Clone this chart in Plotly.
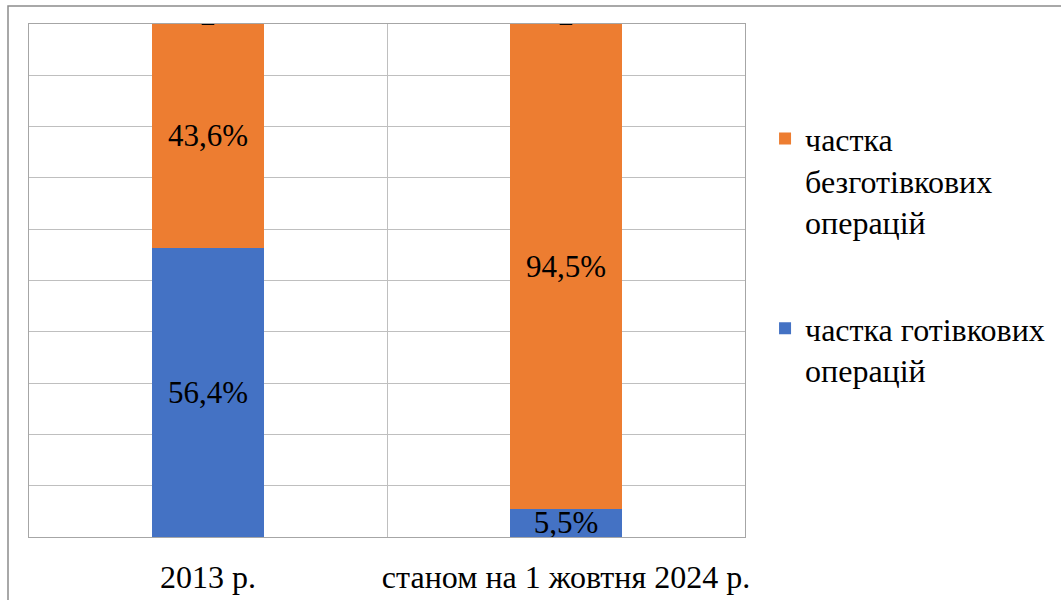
import plotly.graph_objects as go

# Share of payment operations, %
periods = ["2013 р.", "станом на 1 жовтня 2024 р."]
cash_share = [56.4, 5.5]
cashless_share = [43.6, 94.5]

series_names = ["частка готівкових<br>операцій", "частка<br>безготівкових<br>операцій"]
colors = ["#4472C4", "#ED7D31"]

font_family = "Liberation Serif, Tinos, Times New Roman, serif"
label_size = 31
text_size = 32

fig = go.Figure()

fig.add_trace(go.Bar(
    x=periods, y=cash_share, name=series_names[0],
    marker=dict(color=colors[0], line=dict(width=0)),
    texttemplate="%{y:.1f}%", textposition="inside", insidetextanchor="middle",
    textfont=dict(size=label_size, color="black", family=font_family),
    constraintext="none", legendgroup="a", legendrank=2,
))
fig.add_trace(go.Bar(
    x=periods, y=cashless_share, name=series_names[1],
    marker=dict(color=colors[1], line=dict(width=0)),
    texttemplate="%{y:.1f}%", textposition="inside", insidetextanchor="middle",
    textfont=dict(size=label_size, color="black", family=font_family),
    constraintext="none", legendgroup="b", legendrank=1,
))

# small cap mark at the top of each stacked column
totals = [a + b for a, b in zip(cash_share, cashless_share)]
fig.add_trace(go.Scatter(
    x=periods, y=totals, mode="markers", showlegend=False, hoverinfo="skip",
    marker=dict(symbol="line-ew", size=9, line=dict(color="black", width=2)),
    cliponaxis=False,
))

fig.update_layout(
    barmode="stack",
    bargap=0.686,
    separators=", ",
    width=1061, height=600,
    margin=dict(l=29, r=316, t=24, b=63, autoexpand=False),
    paper_bgcolor="white", plot_bgcolor="white",
    font=dict(family=font_family, size=text_size, color="black"),
    uniformtext=dict(minsize=label_size, mode="show"),
    legend=dict(
        x=1.028, xanchor="left", y=0.83, yanchor="top",
        traceorder="grouped", valign="top", tracegroupgap=62,
        font=dict(size=text_size, family=font_family, color="black"),
        itemwidth=30,
    ),
    showlegend=True,
)

fig.update_xaxes(
    type="category", tickson="boundaries", showgrid=True,
    gridcolor="#bfbfbf", gridwidth=1, ticks="", ticklen=0, tickangle=0,
    showline=True, linecolor="#a6a6a6", mirror=True, automargin=False,
    tickfont=dict(size=text_size, family=font_family, color="black"),
    ticklabelstandoff=12, fixedrange=True,
)
fig.update_yaxes(
    range=[0, 100], dtick=10, showgrid=True, gridcolor="#bfbfbf",
    gridwidth=1, showticklabels=False, ticks="", zeroline=False,
    showline=True, linecolor="#a6a6a6", mirror=True, fixedrange=True,
    automargin=False,
)

# outer frame of the chart area
fig.add_shape(
    type="rect", xref="paper", yref="paper",
    x0=(8 - 29) / 716, x1=1.6, y0=-0.5, y1=(537 - 6) / 513,
    line=dict(color="#8c8c8c", width=1.5), layer="below",
)

fig.write_html("out.html")
